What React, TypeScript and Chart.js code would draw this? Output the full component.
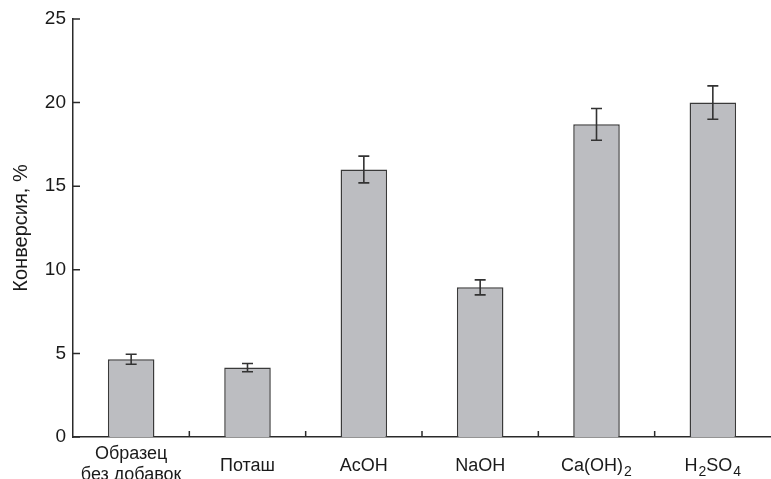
import React, { useEffect, useRef } from "react";
import { Chart, registerables } from "chart.js";

Chart.register(...registerables);

const categories: (string | string[])[] = [
  ["Образец", "без добавок"],
  "Поташ",
  "AcOH",
  "NaOH",
  "Ca(OH)₂",
  "H₂SO₄",
];
const conversion = [4.65, 4.15, 16.0, 8.95, 18.7, 20.0];
const errors = [0.3, 0.25, 0.8, 0.45, 0.95, 1.0];
const yTicks = [0, 5, 10, 15, 20, 25];

const AXIS_COLOR = "#2a2a2a";
const TEXT_COLOR = "#1a1a1a";
const FONT = "'Liberation Sans', Arial, sans-serif";
const LABEL_SIZE = 18;
const SUB_SIZE = 14;
const SUBS = "₀₁₂₃₄₅₆₇₈₉";

function drawRichText(ctx: CanvasRenderingContext2D, text: string, cx: number, baseline: number) {
  // split into runs of normal / subscript characters
  const runs: { t: string; sub: boolean }[] = [];
  for (const ch of Array.from(text)) {
    const idx = SUBS.indexOf(ch);
    const sub = idx >= 0;
    const c = sub ? String(idx) : ch;
    const last = runs[runs.length - 1];
    if (last && last.sub === sub) last.t += c;
    else runs.push({ t: c, sub });
  }
  const widths = runs.map((r) => {
    ctx.font = `${r.sub ? SUB_SIZE : LABEL_SIZE}px ${FONT}`;
    return ctx.measureText(r.t).width + (r.sub ? 1 : 0);
  });
  const total = widths.reduce((a, b) => a + b, 0);
  let x = cx - total / 2;
  runs.forEach((r, i) => {
    ctx.font = `${r.sub ? SUB_SIZE : LABEL_SIZE}px ${FONT}`;
    ctx.fillText(r.t, x + (r.sub ? 1 : 0), baseline + (r.sub ? 5 : 0));
    x += widths[i];
  });
}

const decorPlugin = {
  id: "decor",
  afterDatasetsDraw(chart: any) {
    const { ctx, scales } = chart;
    const x = scales.x;
    const y = scales.y;
    ctx.save();
    // error bars
    ctx.strokeStyle = "#333333";
    ctx.lineWidth = 1.6;
    const meta = chart.getDatasetMeta(0);
    meta.data.forEach((bar: any, i: number) => {
      const cx = bar.x;
      const top = y.getPixelForValue(conversion[i] + errors[i]);
      const bot = y.getPixelForValue(conversion[i] - errors[i]);
      const cap = 5.5;
      ctx.beginPath();
      ctx.moveTo(cx, top);
      ctx.lineTo(cx, bot);
      ctx.moveTo(cx - cap, top);
      ctx.lineTo(cx + cap, top);
      ctx.moveTo(cx - cap, bot);
      ctx.lineTo(cx + cap, bot);
      ctx.stroke();
    });
    // inward ticks
    ctx.strokeStyle = AXIS_COLOR;
    ctx.lineWidth = 1.5;
    ctx.beginPath();
    yTicks.forEach((v) => {
      const py = y.getPixelForValue(v);
      ctx.moveTo(x.left, py);
      ctx.lineTo(x.left + 7, py);
    });
    for (let i = 1; i < categories.length; i++) {
      const px = (x.getPixelForValue(i - 1) + x.getPixelForValue(i)) / 2;
      ctx.moveTo(px, y.bottom);
      ctx.lineTo(px, y.bottom - 6);
    }
    ctx.stroke();
    // category labels (with subscripts)
    ctx.fillStyle = TEXT_COLOR;
    ctx.textAlign = "left";
    ctx.textBaseline = "alphabetic";
    categories.forEach((lab, i) => {
      const cx = x.getPixelForValue(i);
      const lines = Array.isArray(lab) ? lab : [lab];
      if (lines.length === 1) {
        drawRichText(ctx, lines[0], cx, y.bottom + 34);
      } else {
        lines.forEach((ln, k) => drawRichText(ctx, ln, cx, y.bottom + 22 + k * 21));
      }
    });
    ctx.restore();
  },
};

export default function App() {
  const ref = useRef<HTMLCanvasElement | null>(null);
  useEffect(() => {
    if (!ref.current) return;
    const chart = new Chart(ref.current, {
      type: "bar",
      data: {
        labels: categories,
        datasets: [
          {
            data: conversion,
            backgroundColor: "#bcbdc1",
            borderColor: "#3a3a3a",
            borderWidth: 1.5,
            barPercentage: 0.4,
            categoryPercentage: 1.0,
          },
        ],
      },
      options: {
        animation: false,
        responsive: false,
        maintainAspectRatio: false,
        layout: { padding: { top: 19, left: 0, right: 0, bottom: 0 } },
        plugins: {
          legend: { display: false },
          tooltip: { enabled: false },
        },
        scales: {
          x: {
            grid: { display: false, drawTicks: false },
            border: { display: true, color: AXIS_COLOR, width: 1.5 },
            ticks: { display: false, autoSkip: false },
            afterFit(scale: any) {
              scale.height = 42;
            },
          },
          y: {
            min: 0,
            max: 25,
            afterBuildTicks(scale: any) {
              scale.ticks = yTicks.map((v) => ({ value: v }));
            },
            grid: { display: false, drawTicks: false },
            border: { display: true, color: AXIS_COLOR, width: 1.5 },
            ticks: {
              color: TEXT_COLOR,
              font: { family: FONT, size: 19 },
              padding: 7,
            },
            title: {
              display: true,
              text: "Конверсия, %",
              color: TEXT_COLOR,
              font: { family: FONT, size: 20 },
              padding: { top: 9, bottom: 0 },
            },
            afterFit(scale: any) {
              scale.width = 73;
            },
          },
        },
      },
      plugins: [decorPlugin],
    });
    return () => chart.destroy();
  }, []);
  return (
    <div style={{ position: "absolute", left: 0, top: 0, width: 771, height: 479 }}>
      <canvas ref={ref} width={771} height={479} style={{ display: "block" }} />
    </div>
  );
}
